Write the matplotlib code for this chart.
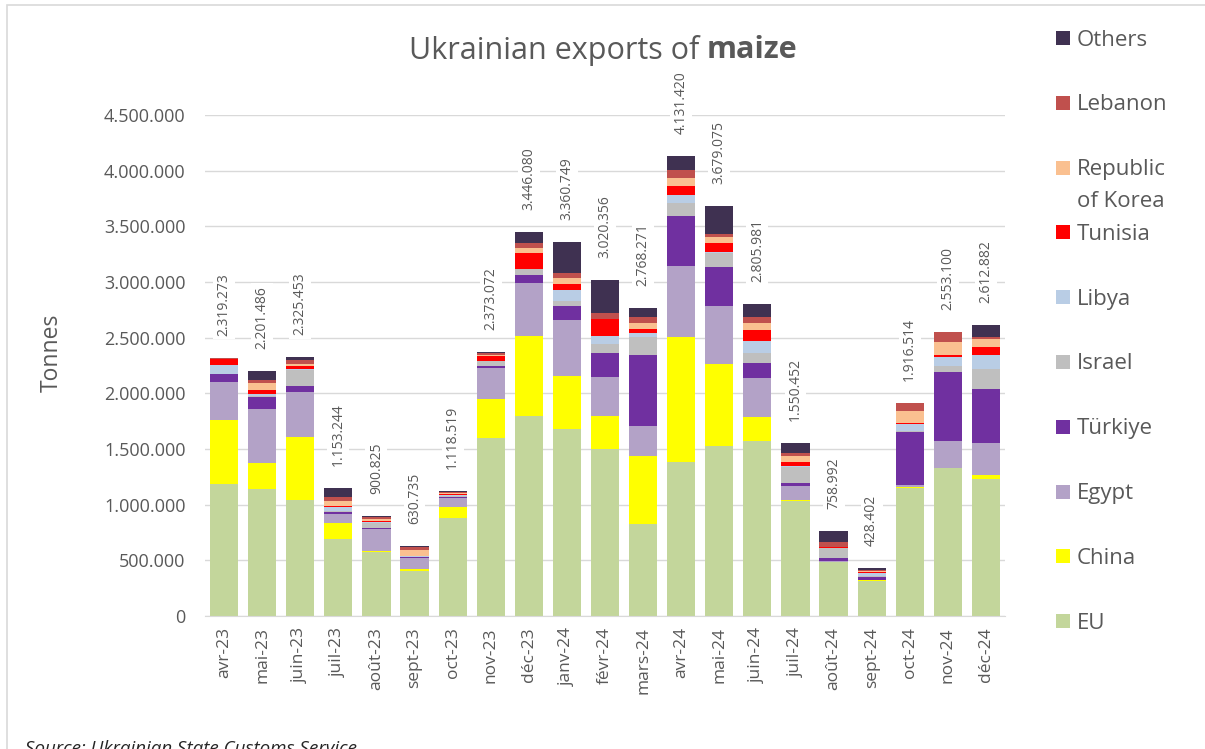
import matplotlib
matplotlib.use("Agg")
import matplotlib.pyplot as plt
from matplotlib.patches import Rectangle
import numpy as np

plt.rcParams['font.family'] = ['Open Sans', 'DejaVu Sans']

# ====== data (tonnes) ======
months = ["avr-23", "mai-23", "juin-23", "juil-23", "août-23", "sept-23", "oct-23",
          "nov-23", "déc-23", "janv-24", "févr-24", "mars-24", "avr-24", "mai-24",
          "juin-24", "juil-24", "août-24", "sept-24", "oct-24", "nov-24", "déc-24"]

# segments in thousand tonnes, bottom -> top
eu      = [1183, 1140, 1039, 694, 572, 407, 883, 1601, 1799, 1679, 1497, 823, 1386, 1527, 1569, 1033, 482, 317, 1152, 1326, 1228]
china   = [575, 231, 571, 144, 12, 15, 98, 345, 718, 479, 302, 617, 1117, 733, 215, 9, 2, 2, 3, 3, 38]
egypt   = [340, 485, 404, 75, 200, 102, 81, 284, 470, 500, 344, 269, 643, 527, 356, 125, 13, 8, 21, 240, 290]
turkiye = [72, 114, 54, 24, 3, 2, 8, 18, 75, 129, 216, 635, 446, 344, 132, 30, 27, 22, 479, 619, 485]
israel  = [0, 10, 141, 10, 45, 3, 8, 39, 57, 42, 84, 159, 114, 126, 87, 138, 84, 8, 5, 57, 174]
libya   = [84, 15, 8, 34, 14, 6, 10, 5, 0, 98, 71, 41, 72, 15, 113, 12, 5, 32, 67, 81, 126]
tunisia = [50, 35, 28, 10, 5, 3, 4, 43, 143, 52, 150, 31, 86, 75, 96, 39, 3, 3, 3, 18, 75]
korea   = [5, 65, 20, 40, 20, 55, 12, 10, 45, 54, 0, 53, 72, 59, 60, 54, 5, 10, 111, 114, 69]
lebanon = [5, 24, 30, 40, 22, 30, 8, 13, 40, 44, 54, 60, 69, 24, 60, 27, 40, 14, 70, 92, 18]
others  = [5, 82, 30, 82, 8, 8, 7, 15, 99, 284, 302, 80, 126, 249, 118, 83, 98, 12, 6, 3, 110]

totals = [2319273, 2201486, 2325453, 1153244, 900825, 630735, 1118519, 2373072,
          3446080, 3360749, 3020356, 2768271, 4131420, 3679075, 2805981, 1550452,
          758992, 428402, 1916514, 2553100, 2612882]

series = [("EU", eu, "#c3d69b"),
          ("China", china, "#ffff00"),
          ("Egypt", egypt, "#b3a2c7"),
          ("Türkiye", turkiye, "#7030a0"),
          ("Israel", israel, "#bfbfbf"),
          ("Libya", libya, "#b9cde5"),
          ("Tunisia", tunisia, "#ff0000"),
          ("Republic\nof Korea", korea, "#fac090"),
          ("Lebanon", lebanon, "#c0504d"),
          ("Others", others, "#3f3151")]

grey = "#595959"

# ====== figure ======
W, H = 1205, 749
fig = plt.figure(figsize=(W / 100, H / 100), dpi=100)
ax = fig.add_axes([205 / W, 1 - 616 / H, 800 / W, (616 - 115) / H])

x = np.arange(len(months))
bottom = np.zeros(len(months))
for name, vals, col in series:
    v = np.array(vals) * 1000.0
    ax.bar(x, v, bottom=bottom, width=0.74, color=col, zorder=3)
    bottom += v

# total labels above bars
for i, tot in enumerate(totals):
    lab = f"{tot:,}".replace(",", ".")
    ax.annotate(lab, (x[i], bottom[i]), xytext=(0, 22), textcoords="offset pixels",
                rotation=90, ha="center", va="bottom", fontsize=10, color=grey,
                bbox=dict(boxstyle="square,pad=0.25", fc="white", ec="none"),
                zorder=5, annotation_clip=False)

ax.set_xlim(-0.5, len(months) - 0.5)
ax.set_ylim(0, 4500000)
ax.set_yticks(np.arange(0, 4500001, 500000))
ax.set_yticklabels([f"{int(t):,}".replace(",", ".") for t in ax.get_yticks()])
ax.set_xticks(x)
ax.set_xticklabels(months, rotation=90)
ax.tick_params(axis="y", length=0, pad=14, labelsize=13, labelcolor=grey)
ax.tick_params(axis="x", length=0, pad=8, labelsize=12.5, labelcolor=grey)
ax.grid(axis="y", color="#d9d9d9", lw=1, zorder=0)
ax.set_axisbelow(True)
for s in ["top", "right", "left"]:
    ax.spines[s].set_visible(False)
ax.spines["bottom"].set_color("#d9d9d9")
ax.spines["bottom"].set_zorder(4)

fig.text(52 / W, 1 - 353 / H, "Tonnes", rotation=90, ha="center", va="center",
         fontsize=16.5, color=grey)

# title, mixed weight
ty = 1 - 50 / H
t1 = fig.text(0, ty, "Ukrainian exports of ", fontsize=22, color=grey, ha="left", va="center")
t2 = fig.text(0, ty, "maize", fontsize=22, color=grey, fontweight="bold", ha="left", va="center")
fig.canvas.draw()
r = fig.canvas.get_renderer()
w1 = t1.get_window_extent(r).width
w2 = t2.get_window_extent(r).width
x0 = 603 - (w1 + w2) / 2
t1.set_x(x0 / W)
t2.set_x((x0 + w1) / W)

# legend, evenly spaced on the right (first text line level with the swatch)
leg = ["Others", "Lebanon", "Republic\nof Korea", "Tunisia", "Libya", "Israel",
       "Türkiye", "Egypt", "China", "EU"]
cols = {n: c for n, _, c in series}
for k, name in enumerate(leg):
    yc = 38 + k * 64.8
    fig.patches.append(Rectangle((1056 / W, 1 - (yc + 7) / H), 14 / W, 14 / H,
                                 transform=fig.transFigure, fc=cols[name], ec="none"))
    for j, line in enumerate(name.split("\n")):
        fig.text(1077 / W, 1 - (yc + 7.5 + 32 * j) / H, line, fontsize=16, color=grey,
                 ha="left", va="baseline")

# outer chart border
fig.patches.append(Rectangle((7 / W, -0.05), 1.1, 1 - 5 / H + 0.05, transform=fig.transFigure,
                             fill=False, ec="#d9d9d9", lw=1.2))

fig.text(25 / W, 1 - 754 / H, "Source: Ukrainian State Customs Service", fontsize=13.5,
         style="italic", color="#262626", ha="left", va="baseline")

fig.savefig("out.png", dpi=100)
